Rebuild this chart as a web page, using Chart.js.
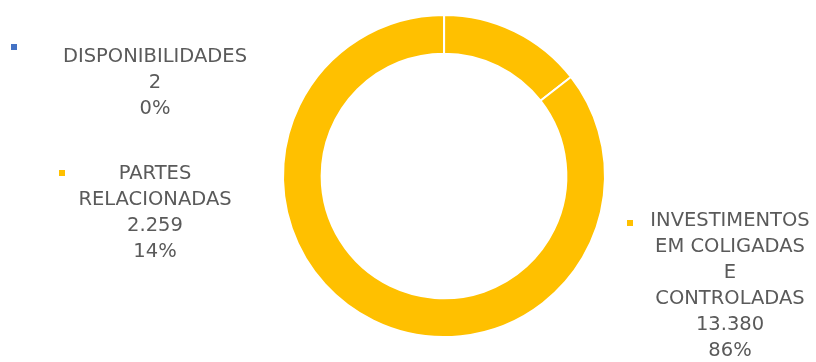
<!DOCTYPE html>
<html>
<head>
<meta charset="utf-8">
<script src="https://cdn.jsdelivr.net/npm/chart.js@4.4.0/dist/chart.umd.min.js"></script>
<style>
  html, body { margin: 0; padding: 0; background: #fff; }
  #grafico { display: block; }
</style>
</head>
<body>
<canvas id="grafico" width="816" height="362"></canvas>
<script>
// Dados do gráfico
const categorias = ['DISPONIBILIDADES', 'PARTES RELACIONADAS', 'INVESTIMENTOS EM COLIGADAS E CONTROLADAS'];
const linhasRotulo = [
  ['DISPONIBILIDADES'],
  ['PARTES', 'RELACIONADAS'],
  ['INVESTIMENTOS', 'EM COLIGADAS', 'E', 'CONTROLADAS']
];
const valores = [2, 2259, 13380];
const cores = ['#4472C4', '#FFC000', '#FFC000'];

// Posição dos rótulos (centro do texto, primeira linha) e do marcador
const posRotulos = [
  { x: 155, y: 57, mx: 14, my: 47 },
  { x: 155, y: 174, mx: 62, my: 173 },
  { x: 730, y: 221, mx: 630, my: 223 }
];

// Formata número no padrão brasileiro (13.380)
function formatar(n) {
  return String(n).replace(/\B(?=(\d{3})+(?!\d))/g, '.');
}

// Plugin para desenhar os rótulos de dados fora do anel
const rotulosPlugin = {
  id: 'rotulos',
  afterDraw(chart) {
    const ctx = chart.ctx;
    const total = valores.reduce((a, b) => a + b, 0);
    ctx.save();
    ctx.font = '19.5px "DejaVu Sans"';
    ctx.fillStyle = '#5a5a5a';
    ctx.textAlign = 'center';
    ctx.textBaseline = 'middle';
    valores.forEach((v, i) => {
      const p = posRotulos[i];
      const linhas = linhasRotulo[i].concat([formatar(v), Math.round(v / total * 100) + '%']);
      linhas.forEach((t, k) => {
        ctx.fillText(t, p.x, p.y + k * 26);
      });
      // marcador da legenda
      ctx.fillStyle = cores[i];
      ctx.fillRect(p.mx - 3, p.my - 3, 6, 6);
      ctx.fillStyle = '#5a5a5a';
    });
    ctx.restore();
  }
};

const ctx = document.getElementById('grafico').getContext('2d');
new Chart(ctx, {
  type: 'doughnut',
  data: {
    labels: categorias,
    datasets: [{
      data: valores,
      backgroundColor: cores,
      borderColor: '#FFFFFF',
      borderWidth: 2
    }]
  },
  options: {
    responsive: false,
    animation: false,
    cutout: '76%',
    layout: { padding: { top: 14, bottom: 24, left: 200, right: 128 } },
    plugins: {
      legend: { display: false },
      tooltip: { enabled: false }
    }
  },
  plugins: [rotulosPlugin]
});
</script>
</body>
</html>
